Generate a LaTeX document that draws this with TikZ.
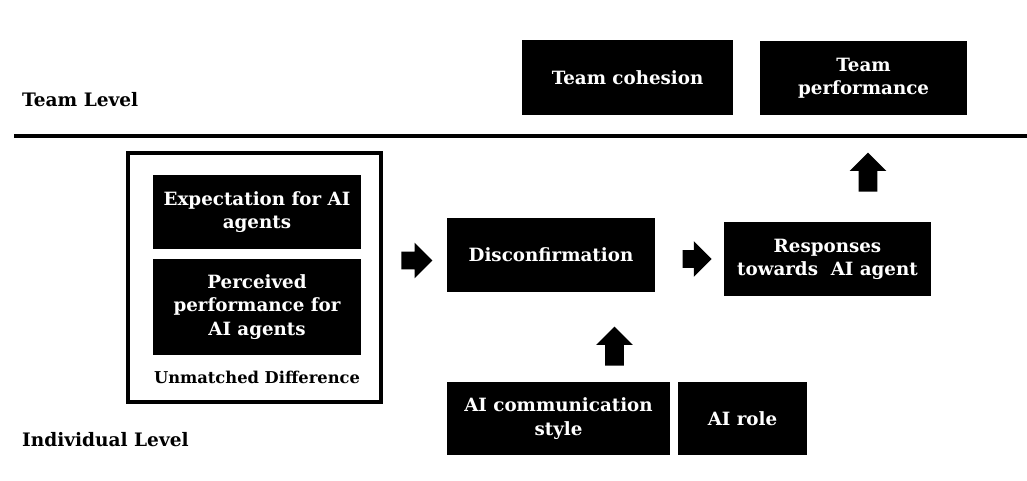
\documentclass[tikz,border=0pt]{standalone}
\usepackage{fontspec}
\setmainfont{DejaVu Serif}
\usetikzlibrary{shapes.arrows}

\tikzset{
  box/.style={fill=black, text=white, font=\fontsize{13}{16.5}\selectfont\bfseries,
    align=center, inner sep=0pt, minimum height=1.85cm},
  level/.style={anchor=west, font=\fontsize{13.2}{16.5}\selectfont\bfseries},
  blockarrow/.style={single arrow, fill=black, inner xsep=0pt, inner ysep=0.2125cm,
    minimum width=0.875cm, single arrow head extend=0.225cm, minimum height=0.775cm},
}

\begin{document}
\begin{tikzpicture}
            \useasboundingbox (0,0) rectangle (25.675,-12);

            % Levels
            \node[level] (team) at (0.43,-2.5) {Team Level};
            \node[level] (indiv) at (0.43,-11.0) {Individual Level};
            \coordinate (lineL) at (0.35,-3.4);
            \coordinate (lineR) at (25.675,-3.4);
            \draw[line width=2.8pt] (lineL) -- (lineR);

            % Team level constructs
            \node[box, minimum width=5.275cm, minimum height=1.875cm] (cohesion) at (15.69,-1.94) {Team cohesion};
            \node[box, minimum width=5.175cm] (perf) at (21.59,-1.95) {Team\\performance};

            % Unmatched difference
            \node[draw, line width=2.8pt, minimum width=6.325cm, minimum height=6.225cm] (diff) at (6.3625,-6.9375) {};
            \node[box, minimum width=5.2cm] (expect) at (6.425,-5.3) {Expectation for AI\\agents};
            \node[box, minimum width=5.2cm, minimum height=2.4cm] (perceived) at (6.425,-7.675) {Perceived\\performance for\\AI agents};
            \node[font=\fontsize{11.6}{14}\selectfont\bfseries] (unmatched) at (6.425,-9.425) {Unmatched Difference};

            % Individual level constructs
            \node[box, minimum width=5.2cm] (discon) at (13.775,-6.375) {Disconfirmation};
            \node[box, minimum width=5.175cm] (resp) at (20.6875,-6.475) {Responses\\towards~ AI agent};
            \node[box, minimum width=5.575cm, minimum height=1.825cm] (style) at (13.9625,-10.4625) {AI communication\\style};
            \node[box, minimum width=3.225cm, minimum height=1.825cm] (role) at (18.5625,-10.4625) {AI role};

            % Block arrows
            \node[blockarrow] (a1) at (10.31,-6.5125) {};
            \node[blockarrow, minimum height=0.725cm] (a2) at (17.32,-6.475) {};
            \node[blockarrow, rotate=90, minimum height=0.975cm, minimum width=0.9cm, inner ysep=0.225cm] (a3) at (21.7,-4.42) {};
            \node[blockarrow, rotate=90, minimum height=0.975cm, minimum width=0.9cm, inner ysep=0.225cm] (a4) at (15.3625,-8.77) {};
        \end{tikzpicture}
\end{document}
